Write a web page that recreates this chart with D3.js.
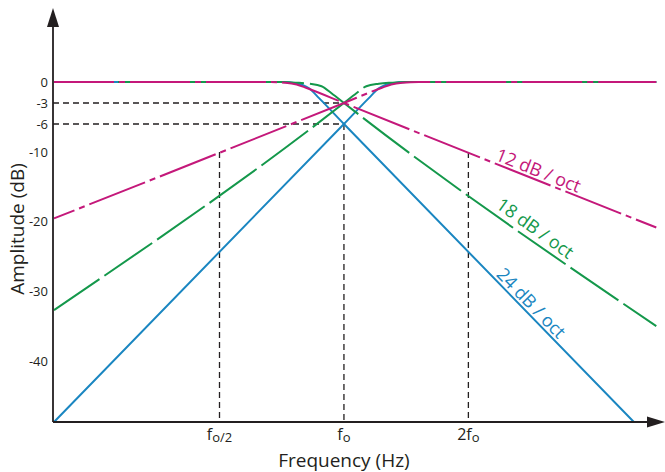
<!DOCTYPE html>
<html>
<head>
<meta charset="utf-8">
<title>Crossover slopes</title>
<script src="https://d3js.org/d3.v7.min.js"></script>
<style>
    body { margin: 0; background: #fff; }
    text { font-family: "Open Sans", sans-serif; fill: #231f20; }
</style>
</head>
<body>
<svg id="chart"></svg>
<script>
    // x values are octaves relative to fo, y values are dB
    const yTicks = [0, -3, -6, -10, -20, -30, -40];
    const xTicks = [-1, 0, 1];
    const xTickLabels = [["f", "o/2"], ["f", "o"], ["2f", "o"]];
    const guideLevels = [-3, -6];          // horizontal dashed guides up to fo
    const guideTops = [-10, -6, -10];      // where the vertical guides start

    const lowpass12 = [[-2.33, 0], [-0.6, 0], [-0.47, -0.1], [-0.38, -0.35], [-0.3, -0.85], [0, -3], [2.51, -20.8]];
    const highpass12 = [[-2.33, -19.5], [0, -3], [0.3, -0.85], [0.38, -0.35], [0.47, -0.1], [0.6, 0], [2.51, 0]];
    const lowpass18 = [[-2.33, 0], [-0.5, 0], [-0.38, -0.1], [-0.28, -0.25], [-0.18, -0.6], [-0.1, -1.6], [0, -3], [2.51, -34.9]];
    const highpass18 = [[-2.33, -32.6], [0, -3], [0.1, -1.6], [0.18, -0.6], [0.28, -0.25], [0.38, -0.1], [0.5, 0], [2.51, 0]];
    const lowpass24 = [[-2.33, 0], [-0.5, 0], [-0.38, -0.2], [-0.28, -0.9], [-0.2, -2.3], [0, -6], [2.33, -48.6]];
    const highpass24 = [[-2.33, -48.6], [0, -6], [0.2, -2.3], [0.28, -0.9], [0.38, -0.2], [0.5, 0], [2.51, 0]];

    const slopeNames = ["24 dB / oct", "18 dB / oct", "12 dB / oct"];
    const labelOctave = 1.2;

    const width = 665;
    const height = 472;
    const ink = '#231f20';

    const x = d3.scaleLinear().domain([-2.33, 2.58]).range([54, 665]);
    const y = d3.scaleLinear().domain([-48.6, 0]).range([422, 82]);
    const axisX = 53;
    const axisY = y(-48.6);

    const svg = d3.select('#chart')
        .attr('width', width)
        .attr('height', height);

    // dashed guides
    const guides = svg.append('g')
        .attr('stroke', ink)
        .attr('stroke-width', 1.3)
        .attr('stroke-dasharray', '6,4');

    guides.selectAll('.h-guide')
        .data(guideLevels)
        .enter()
        .append('line')
        .attr('x1', axisX)
        .attr('x2', x(0))
        .attr('y1', d => y(d))
        .attr('y2', d => y(d));

    guides.selectAll('.v-guide')
        .data(xTicks)
        .enter()
        .append('line')
        .attr('x1', d => x(d))
        .attr('x2', d => x(d))
        .attr('y1', (d, i) => y(guideTops[i]))
        .attr('y2', axisY);

    // filter curves
    const line = d3.line()
        .x(d => x(d[0]))
        .y(d => y(d[1]))
        .curve(d3.curveMonotoneX);

    const curves = [
        {points: lowpass24, color: '#1a86c1', dash: null, offset: 0},
        {points: highpass24, color: '#1a86c1', dash: null, offset: 0},
        {points: lowpass18, color: '#14984b', dash: '58,6', offset: 0},
        {points: highpass18, color: '#14984b', dash: '58,6', offset: 3},
        {points: lowpass12, color: '#c4187a', dash: '60,5,6,5', offset: 0},
        {points: highpass12, color: '#c4187a', dash: '60,5,6,5', offset: 38}
    ];

    svg.append('g')
        .selectAll('path')
        .data(curves)
        .enter()
        .append('path')
        .attr('d', d => line(d.points))
        .attr('fill', 'none')
        .attr('stroke', d => d.color)
        .attr('stroke-width', 2)
        .attr('stroke-dasharray', d => d.dash)
        .attr('stroke-dashoffset', d => d.offset);

    // slope labels sit on the low-pass lines
    const lowpasses = [lowpass24, lowpass18, lowpass12];
    const colors = ['#1a86c1', '#14984b', '#c4187a'];

    lowpasses.forEach((pts, i) => {
        const a = pts[pts.length - 2];
        const b = pts[pts.length - 1];
        const t = (labelOctave - a[0]) / (b[0] - a[0]);
        const db = a[1] + t * (b[1] - a[1]);
        const angle = Math.atan2(y(b[1]) - y(a[1]), x(b[0]) - x(a[0])) * 180 / Math.PI;
        svg.append('text')
            .attr('transform', `translate(${x(labelOctave)},${y(db)}) rotate(${angle})`)
            .attr('dy', -3)
            .style('font-size', '18px')
            .style('fill', colors[i])
            .text(slopeNames[i]);
    });

    // axes
    const axes = svg.append('g')
        .attr('stroke', ink)
        .attr('stroke-width', 1.8);

    axes.append('line')
        .attr('x1', axisX).attr('x2', 650)
        .attr('y1', axisY).attr('y2', axisY);
    axes.append('line')
        .attr('x1', axisX).attr('x2', axisX)
        .attr('y1', axisY).attr('y2', 24);

    svg.append('path')
        .attr('d', `M${axisX},8 L${axisX + 6},27 L${axisX - 6},27 Z`)
        .attr('fill', ink);
    svg.append('path')
        .attr('d', `M665,${axisY} L647,${axisY - 5.5} L647,${axisY + 5.5} Z`)
        .attr('fill', ink);

    // y tick labels
    svg.selectAll('.y-label')
        .data(yTicks)
        .enter()
        .append('text')
        .attr('x', 48)
        .attr('y', d => y(d))
        .attr('dy', '0.35em')
        .attr('text-anchor', 'end')
        .style('font-size', '13px')
        .text(d => d);

    // x tick labels with subscripts
    const xl = svg.selectAll('.x-label')
        .data(xTicks)
        .enter()
        .append('text')
        .attr('x', d => x(d))
        .attr('y', 440)
        .attr('text-anchor', 'middle')
        .style('font-size', '16px');

    xl.append('tspan').text((d, i) => xTickLabels[i][0]);
    xl.append('tspan')
        .attr('dy', 2)
        .style('font-size', '13px')
        .text((d, i) => xTickLabels[i][1]);

    // axis titles
    svg.append('text')
        .attr('x', x(0))
        .attr('y', 467)
        .attr('text-anchor', 'middle')
        .style('font-size', '19px')
        .text('Frequency (Hz)');

    svg.append('text')
        .attr('transform', 'translate(24,229) rotate(-90)')
        .attr('text-anchor', 'middle')
        .style('font-size', '19px')
        .text('Amplitude (dB)');
</script>
</body>
</html>
